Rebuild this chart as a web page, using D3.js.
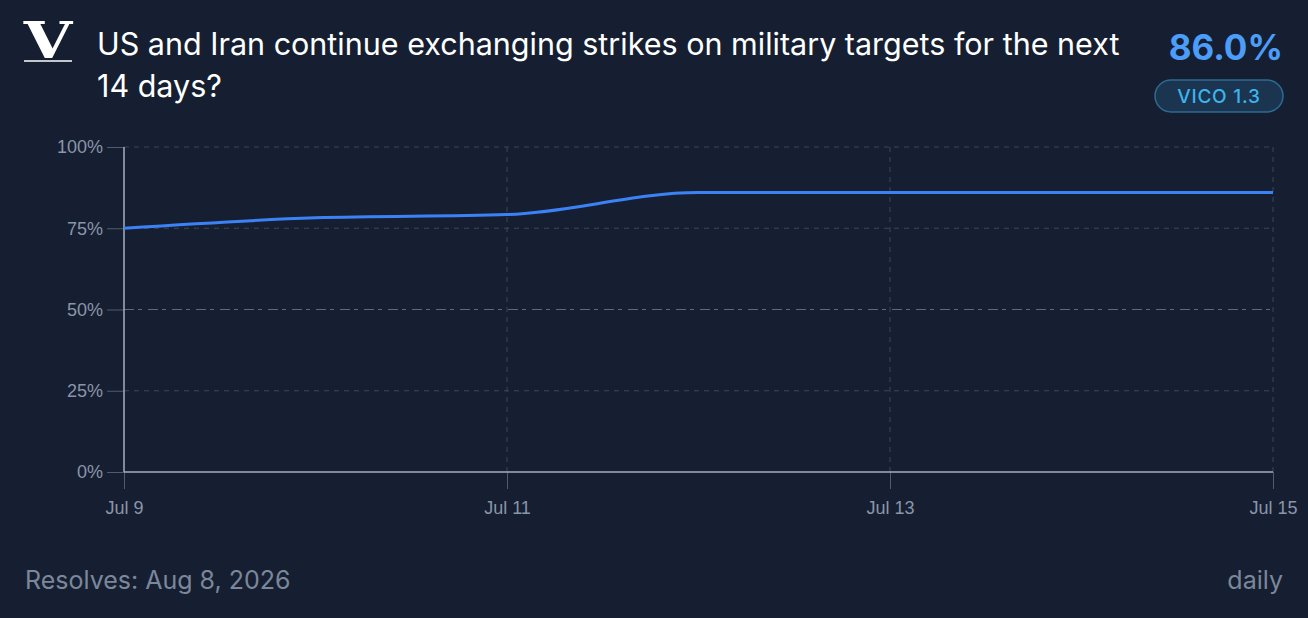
<!DOCTYPE html>
<html lang="en">
<head>
    <meta charset="UTF-8">
    <title>US and Iran strikes</title>
    <script src="https://cdn.jsdelivr.net/npm/d3@7/dist/d3.min.js"></script>
</head>
<style>
    body {
        margin: 0;
        background: #161f31;
        font-family: Inter, "Noto Sans", sans-serif;
    }

    .grid line {
        stroke: #3a475b;
        stroke-dasharray: 5, 5;
    }

    .tick text {
        fill: #8a95a8;
        font-size: 18px;
    }
</style>
<body>
<script>
    var width = 1308;
    var height = 618;

    // daily series
    var dates = ['2026-07-09', '2026-07-10', '2026-07-11', '2026-07-12', '2026-07-13', '2026-07-14', '2026-07-15'];
    var values = [75, 78.2, 79.2, 86, 86, 86, 86];
    var yTicks = [0, 25, 50, 75, 100];
    var xTickDates = ['2026-07-09', '2026-07-11', '2026-07-13', '2026-07-15'];

    var titleLines = ['US and Iran continue exchanging strikes on military targets for the next', '14 days?'];
    var currentValue = '86.0%';
    var badgeText = 'VICO 1.3';
    var resolves = 'Resolves: Aug 8, 2026';
    var frequency = 'daily';

    var parse = d3.timeParse('%Y-%m-%d');
    var data = dates.map(function (d, i) {
        return {date: parse(d), value: values[i]};
    });

    var padding = {left: 124, right: 35, top: 147, bottom: 146};

    var svg = d3.select('body')
        .append('svg')
        .attr('width', width)
        .attr('height', height);

    var xScale = d3.scaleTime()
        .domain(d3.extent(data, function (d) { return d.date; }))
        .range([padding.left, width - padding.right]);

    var yScale = d3.scaleLinear()
        .domain([0, 100])
        .range([height - padding.bottom, padding.top]);

    // logo
    svg.append('text')
        .attr('transform', 'translate(48,58) scale(1.25,1)')
        .attr('text-anchor', 'middle')
        .attr('font-family', '"DejaVu Serif", "Liberation Serif", serif')
        .attr('font-weight', 'bold')
        .attr('font-size', 50)
        .attr('fill', '#ffffff')
        .text('V');
    svg.append('line')
        .attr('x1', 24).attr('x2', 72)
        .attr('y1', 61).attr('y2', 61)
        .attr('stroke', '#ffffff')
        .attr('stroke-width', 1.5);

    // title
    svg.append('text')
        .attr('fill', '#ffffff')
        .attr('font-size', 30.5)
        .selectAll('tspan')
        .data(titleLines)
        .enter()
        .append('tspan')
        .attr('x', 97)
        .attr('y', function (d, i) { return 55 + i * 42; })
        .text(function (d) { return d; });

    // current value + badge
    svg.append('text')
        .attr('x', 1283)
        .attr('y', 60)
        .attr('text-anchor', 'end')
        .attr('font-size', 35)
        .attr('font-weight', 'bold')
        .attr('fill', '#4b9df8')
        .text(currentValue);

    svg.append('rect')
        .attr('x', 1155).attr('y', 80)
        .attr('width', 128).attr('height', 32)
        .attr('rx', 16)
        .attr('fill', '#1b3450')
        .attr('stroke', '#2d6b92')
        .attr('stroke-width', 1.5);
    svg.append('text')
        .attr('x', 1219)
        .attr('y', 103)
        .attr('text-anchor', 'middle')
        .attr('font-size', 19)
        .attr('font-weight', 500)
        .attr('letter-spacing', 0.8)
        .attr('fill', '#3bb5ee')
        .text(badgeText);

    // grid
    svg.append('g')
        .attr('class', 'grid')
        .selectAll('line')
        .data(yTicks.filter(function (d) { return d > 0 && d !== 50; }))
        .enter()
        .append('line')
        .attr('x1', padding.left).attr('x2', width - padding.right)
        .attr('y1', function (d) { return yScale(d); })
        .attr('y2', function (d) { return yScale(d); });

    svg.append('g')
        .attr('class', 'grid')
        .selectAll('line')
        .data(xTickDates.slice(1).map(parse))
        .enter()
        .append('line')
        .attr('x1', function (d) { return xScale(d); })
        .attr('x2', function (d) { return xScale(d); })
        .attr('y1', yScale(100)).attr('y2', yScale(0));

    // 50% reference line
    svg.append('line')
        .attr('x1', padding.left).attr('x2', width - padding.right)
        .attr('y1', yScale(50)).attr('y2', yScale(50))
        .attr('stroke', '#5b6a80')
        .attr('stroke-width', 1.2)
        .attr('stroke-dasharray', '10,4,4,6');

    // axes
    var yAxis = d3.axisLeft(yScale)
        .tickValues(yTicks)
        .tickSize(17)
        .tickPadding(4)
        .tickFormat(function (d) { return d + '%'; });

    var xAxis = d3.axisBottom(xScale)
        .tickValues(xTickDates.map(parse))
        .tickSize(17)
        .tickPadding(12)
        .tickFormat(d3.timeFormat('%b %-d'));

    var gy = svg.append('g')
        .attr('transform', 'translate(' + padding.left + ',0)')
        .call(yAxis);
    gy.select('.domain').remove();
    gy.selectAll('.tick line').attr('stroke', '#4e5c70');

    var gx = svg.append('g')
        .attr('transform', 'translate(0,' + (height - padding.bottom) + ')')
        .call(xAxis);
    gx.select('.domain').remove();
    gx.selectAll('.tick line').attr('stroke', '#4e5c70');

    svg.append('line')
        .attr('x1', padding.left).attr('x2', padding.left)
        .attr('y1', yScale(100)).attr('y2', yScale(0))
        .attr('stroke', '#a3afc2')
        .attr('stroke-width', 1.5);
    svg.append('line')
        .attr('x1', padding.left).attr('x2', width - padding.right)
        .attr('y1', yScale(0)).attr('y2', yScale(0))
        .attr('stroke', '#a3afc2')
        .attr('stroke-width', 1.5);

    // series line
    var line = d3.line()
        .x(function (d) { return xScale(d.date); })
        .y(function (d) { return yScale(d.value); })
        .curve(d3.curveMonotoneX);

    svg.append('path')
        .datum(data)
        .attr('d', line)
        .attr('fill', 'none')
        .attr('stroke', '#3b82f6')
        .attr('stroke-width', 3);

    // footer
    svg.append('text')
        .attr('x', 25)
        .attr('y', 589)
        .attr('font-size', 25)
        .attr('fill', '#7b879a')
        .text(resolves);
    svg.append('text')
        .attr('x', 1283)
        .attr('y', 589)
        .attr('text-anchor', 'end')
        .attr('font-size', 25)
        .attr('fill', '#7b879a')
        .text(frequency);
</script>

</body>
</html>
